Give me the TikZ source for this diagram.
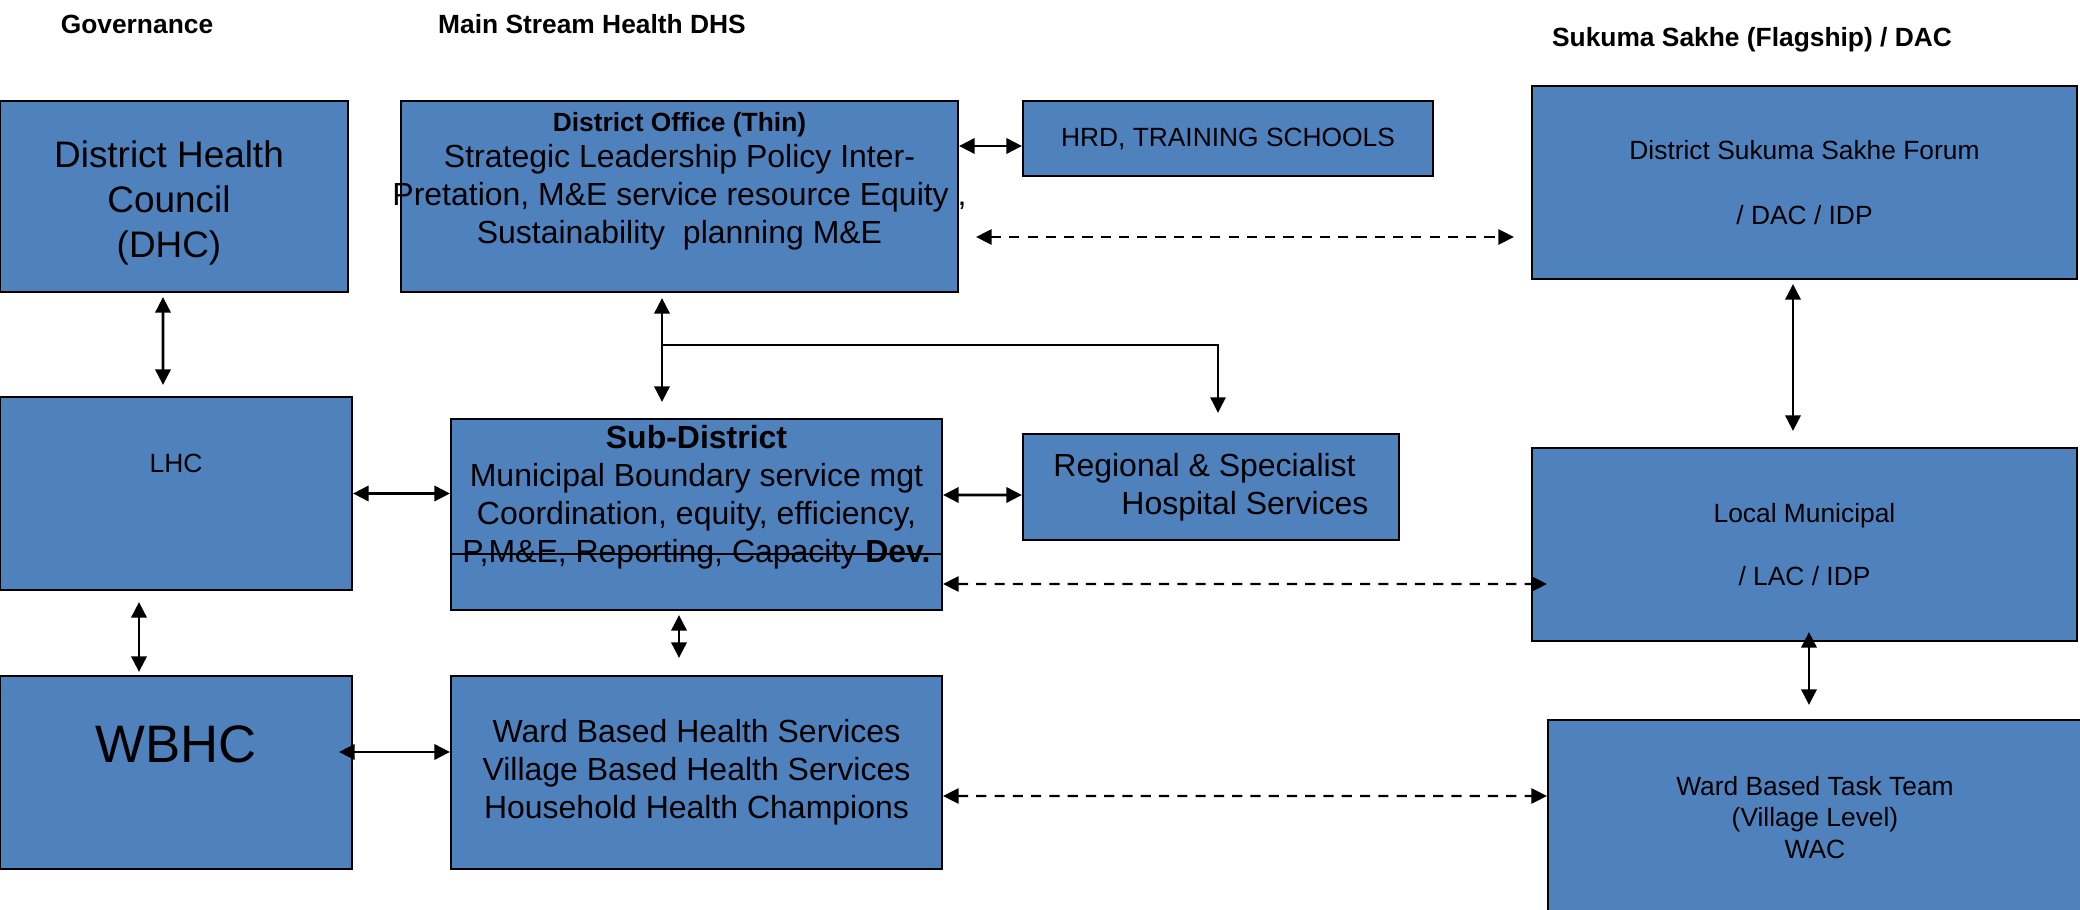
\documentclass[tikz,border=0pt]{standalone}
\usepackage{fontspec}
\setmainfont{Liberation Sans}
\usetikzlibrary{arrows.meta,positioning}
\definecolor{boxblue}{RGB}{79,129,189}
\newcommand{\sizeS}{\fontsize{7.5}{9}\selectfont}
\newcommand{\sizeM}{\fontsize{9.1}{10.8}\selectfont}
\newcommand{\sizeL}{\fontsize{10.5}{12.8}\selectfont}
\newcommand{\sizeXL}{\fontsize{15}{18}\selectfont}

\begin{document}
\begin{tikzpicture}[>={Triangle[length=4.4pt,width=4.3pt]}]
    \tikzstyle{box}=[rectangle,draw=black,fill=boxblue,line width=0.6pt,inner sep=0pt,align=center]
    \tikzstyle{txt}=[inner sep=0pt,align=center]
    \tikzstyle{head}=[inner sep=0pt,font=\sizeS\bfseries]
    \tikzstyle{link}=[line width=0.8pt]
    \tikzstyle{dashlink}=[line width=0.65pt,dash pattern=on 2.9pt off 2.3pt]

    \useasboundingbox (0,0) rectangle (20.8,-9.1);

    \node[head] (govhead) at (1.37,-0.24) {Governance};
    \node[head] (mainhead) at (5.92,-0.24) {Main Stream Health DHS};
    \node[head] (sukhead) at (17.52,-0.4) {Sukuma Sakhe (Flagship) / DAC};

    % governance
    \node[box,minimum width=3.48cm,minimum height=1.91cm] (dhc) at (1.74,-1.965) {};
    \node[txt,font=\sizeL] (dhctxt) at ([xshift=-0.05cm,yshift=-0.06cm]dhc.center) {District Health\\Council\\(DHC)};
    \node[box,minimum width=3.52cm,minimum height=1.93cm] (lhc) at (1.76,-4.935) {};
    \node[box,minimum width=3.52cm,minimum height=1.93cm] (wbhc) at (1.76,-7.725) {};
    \node[txt,font=\sizeS,below=0.575cm of lhc.north] (lhctxt) {LHC};
    \node[txt,font=\sizeXL,below=0.5cm of wbhc.north] (wbhctxt) {WBHC};

    % main stream
    \node[box,minimum width=5.57cm,minimum height=1.91cm] (do) at (6.795,-1.965) {};
    \node[txt,font=\sizeM,below=0.12cm of do.north] (dotxt) {{\sizeS\bfseries District Office (Thin)}\\[-0.5pt]Strategic Leadership Policy Inter-\\Pretation, M\&E service resource Equity ,\\Sustainability~ planning M\&E};
    \node[box,minimum width=4.10cm,minimum height=0.75cm,font=\sizeS] (hrd) at (12.28,-1.385) {HRD, TRAINING SCHOOLS};
    \node[box,minimum width=4.91cm,minimum height=1.91cm] (subd) at (6.965,-5.145) {};
    \node[txt,font=\sizeM,below=0.07cm of subd.north] (subdtxt) {\textbf{Sub-District}\\Municipal Boundary service mgt\\Coordination, equity, efficiency,\\P,M\&E, Reporting, Capacity \textbf{Dev.}};
    \draw[line width=0.45pt] ([yshift=-0.395cm]subd.west) -- ([yshift=-0.395cm]subd.east);
    \node[box,minimum width=3.76cm,minimum height=1.06cm,font=\sizeM,align=left] (rshs) at (12.11,-4.87) {Regional \& Specialist\\\hspace*{0.68cm}Hospital Services};
    \node[box,minimum width=4.91cm,minimum height=1.93cm,font=\sizeM] (wbhs) at (6.965,-7.725) {Ward Based Health Services\\Village Based Health Services\\Household Health Champions};

    % sukuma sakhe
    \node[box,minimum width=5.45cm,minimum height=1.93cm,font=\sizeS] (dssf) at (18.045,-1.825) {District Sukuma Sakhe Forum\\[9.4pt]/ DAC / IDP};
    \node[box,minimum width=5.45cm,minimum height=1.93cm,font=\sizeS] (lm) at (18.045,-5.445) {Local Municipal\\[9pt]/ LAC / IDP};
    \node[box,minimum width=5.34cm,minimum height=1.95cm,font=\sizeS] (wbtt) at (18.15,-8.175) {Ward Based Task Team\\(Village Level)\\WAC};

    % links
    \draw[link,<->] ([xshift=-0.11cm,yshift=-0.04cm]dhc.south) -- ([xshift=-0.13cm,yshift=0.11cm]lhc.north);
    \draw[link,<->] ([xshift=-0.37cm,yshift=-0.11cm]lhc.south) -- ([xshift=-0.37cm,yshift=0.03cm]wbhc.north);
    \draw[link,<->] (lhc.east) -- (lhc.east -| subd.west);
    \draw[link,<->] ([xshift=-0.14cm,yshift=0.205cm]wbhc.east) -- ([yshift=0.205cm]wbhs.west);
    \draw[link,<->] ([yshift=0.505cm]do.east) -- ([yshift=-0.075cm]hrd.west);
    \draw[dashlink,<->] ([xshift=0.17cm,yshift=-0.405cm]do.east) -- ([xshift=-0.17cm,yshift=-0.545cm]dssf.west);
    \draw[link,<->] ([xshift=-0.175cm,yshift=-0.05cm]do.south) -- ([xshift=-0.345cm,yshift=0.16cm]subd.north);
    \coordinate (br) at ([xshift=-0.175cm,yshift=-0.52cm]do.south);
    \draw[line width=0.5pt,->] (br) -| ([xshift=0.07cm,yshift=0.2cm]rshs.north);
    \draw[link,<->] ([yshift=0.195cm]subd.east) -- ([yshift=-0.08cm]rshs.west);
    \draw[dashlink,<->] ([yshift=-0.695cm]subd.east) -- ([xshift=0.16cm,yshift=-0.395cm]lm.west);
    \draw[dashlink,<->] ([yshift=-0.235cm]wbhs.east) -- ([yshift=0.215cm]wbtt.west);
    \draw[link,<->] ([xshift=-0.115cm,yshift=-0.04cm]dssf.south) -- ([xshift=-0.115cm,yshift=0.16cm]lm.north);
    \draw[link,<->] ([xshift=0.045cm,yshift=0.1cm]lm.south) -- ([xshift=-0.06cm,yshift=0.14cm]wbtt.north);
    \draw[link,<->] ([xshift=-0.175cm,yshift=-0.04cm]subd.south) -- ([xshift=-0.175cm,yshift=0.17cm]wbhs.north);
\end{tikzpicture}
\end{document}
